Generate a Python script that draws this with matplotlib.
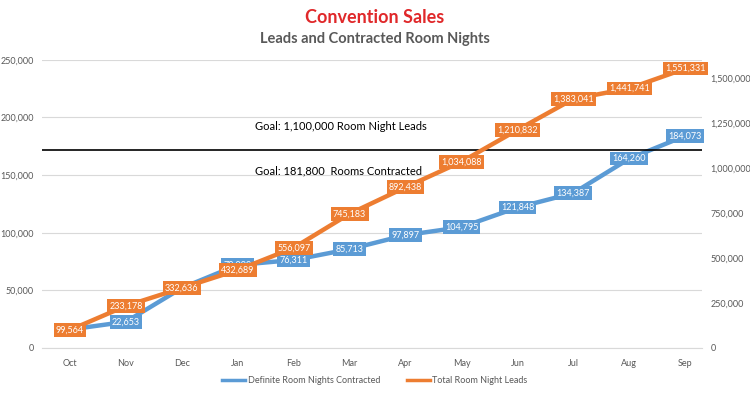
import matplotlib.pyplot as plt

plt.rcParams['font.family'] = ['Lato', 'DejaVu Sans']

months = ["Oct", "Nov", "Dec", "Jan", "Feb", "Mar", "Apr", "May", "Jun", "Jul", "Aug", "Sep"]
contracted = [16000, 22653, 52000, 72000, 76311, 85713, 97897, 104795, 121848, 134387, 164260, 184073]
leads = [99564, 233178, 332636, 432689, 556097, 745183, 892438, 1034088, 1210832, 1383041, 1441741, 1551331]
left_ticks = [0, 50000, 100000, 150000, 200000, 250000]
right_ticks = [0, 250000, 500000, 750000, 1000000, 1250000, 1500000]
goal_leads = 1100000

BLUE = "#5B9BD5"
ORANGE = "#ED7D31"
GRAY = "#595959"

fig = plt.figure(figsize=(7.5, 3.94), dpi=100)
ax = fig.add_axes([0.056, 0.117, 0.88, 0.731])
ax2 = ax.twinx()

x = list(range(len(months)))

ax.plot(x, contracted, color=BLUE, linewidth=3.2, solid_capstyle="round", zorder=3)
ax2.plot(x, leads, color=ORANGE, linewidth=3.2, solid_capstyle="round", zorder=3)

ax.set_ylim(0, 250000)
ax2.set_ylim(0, 1600000)
ax.set_xlim(-0.5, 11.3)

ax.set_yticks(left_ticks)
ax.set_yticklabels([f"{v:,}" for v in left_ticks])
ax2.set_yticks(right_ticks)
ax2.set_yticklabels([f"{v:,}" for v in right_ticks])
ax.set_xticks(x)
ax.set_xticklabels(months)

for a in (ax, ax2):
    for s in a.spines.values():
        s.set_visible(False)
    a.tick_params(length=0, labelsize=6.5, colors=GRAY)
ax.spines["bottom"].set_visible(True)
ax.spines["bottom"].set_color("#D9D9D9")
ax.tick_params(axis="x", pad=8)
ax.tick_params(axis="y", pad=6)
ax2.tick_params(axis="y", pad=6)
ax.grid(axis="y", color="#D9D9D9", linewidth=0.8)
ax.set_axisbelow(True)

# goal line and notes
ax2.axhline(goal_leads, color="black", linewidth=1.2, zorder=2)
ax.text(3.3, 192000, "Goal: 1,100,000 Room Night Leads", fontsize=8, color="black", va="center")
ax.text(3.3, 154000, "Goal: 181,800  Rooms Contracted", fontsize=8, color="black", va="center")

# data labels
for i, v in enumerate(contracted):
    ax.text(i, v, f"{v:,}", fontsize=6.5, color="white", ha="center", va="center", zorder=5,
            bbox=dict(boxstyle="square,pad=0.25", fc=BLUE, ec="none"))
for i, v in enumerate(leads):
    ax2.text(i, v, f"{v:,}", fontsize=6.5, color="white", ha="center", va="center", zorder=6,
             bbox=dict(boxstyle="square,pad=0.25", fc=ORANGE, ec="none"))

fig.text(0.5, 0.955, "Convention Sales", ha="center", va="center", fontsize=13,
         fontweight="bold", color="#E0282A")
fig.text(0.5, 0.9, "Leads and Contracted Room Nights", ha="center", va="center",
         fontsize=10.5, fontweight="bold", color=GRAY)

h1, = ax.plot([], [], color=BLUE, linewidth=2.5)
h2, = ax.plot([], [], color=ORANGE, linewidth=2.5)
fig.legend([h1, h2], ["Definite Room Nights Contracted", "Total Room Night Leads"],
           loc="center", bbox_to_anchor=(0.5, 0.035), ncol=2, frameon=False,
           fontsize=6.5, labelcolor=GRAY, handlelength=2.5, handletextpad=0.3, columnspacing=3)

fig.savefig("out.png", dpi=100)
